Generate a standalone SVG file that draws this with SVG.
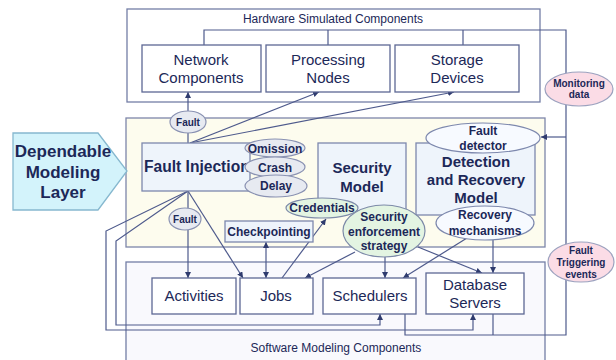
<svg xmlns="http://www.w3.org/2000/svg" width="616" height="360" viewBox="0 0 616 360">
<defs>
<marker id="arr" viewBox="0 0 6 6" refX="6" refY="3" markerWidth="6" markerHeight="6" markerUnits="userSpaceOnUse" orient="auto-start-reverse">
<path d="M0,0 L6,3 L0,6 z" fill="#2f3b6e"/>
</marker>
<style>
text{font-family:"Liberation Sans",Arial,sans-serif;fill:#1c2858;text-anchor:middle}
.cont{fill:#ffffff;stroke:#737ea6;stroke-width:1.3}
.box{fill:#ffffff;stroke:#5d6894;stroke-width:1.3}
.mbox{fill:#eef4fb;stroke:#7d88ad;stroke-width:1.3}
.lbl{font-size:15px}
.bl{font-size:15px;font-weight:bold}
.el{font-size:12px;font-weight:bold}
.es{font-size:10px;font-weight:bold}
.gray{fill:#e7eaf1;stroke:#8a92b2;stroke-width:1.2}
.green{fill:#e3f4e2;stroke:#7d8aa8;stroke-width:1.2}
.white{fill:#f7faff;stroke:#7d88ad;stroke-width:1.2}
.pink{fill:#fbdce6;stroke:#9ca2bf;stroke-width:1.2}
.ln{fill:none;stroke:#4e5a8c;stroke-width:1.2}
.title{font-size:12px}
</style>
</defs>

<g id="containers">
<rect id="hardware" class="cont" x="127" y="9" width="413" height="93"/>
<text class="title" x="333" y="23">Hardware Simulated Components</text>
<rect id="layer" x="126" y="118" width="419" height="129" fill="#fdfcee" stroke="#7d86aa" stroke-width="1.3"/>
<rect id="software" x="126" y="262" width="419" height="110" fill="#f9f9fd" stroke="#737ea6" stroke-width="1.3"/>
<text class="title" x="336" y="352">Software Modeling Components</text>
</g>

<g id="dependable">
<polygon points="13,133 98,133 127,171 98,210 13,210" fill="#d3f3fb" stroke="#86b8cf" stroke-width="1.3"/>
<text x="63" y="157" font-size="17" font-weight="bold">Dependable</text>
<text x="63" y="178" font-size="17" font-weight="bold">Modeling</text>
<text x="63" y="198" font-size="17" font-weight="bold">Layer</text>
</g>

<g id="connectors">
<path class="ln" d="M204,45 V30 H566 V335 H405 V314"/>
<path class="ln" d="M328,30 V45"/>
<path class="ln" d="M463,30 V45"/>
<path class="ln" d="M493,335 V314"/>
<path class="ln" d="M566,137 H541" marker-end="url(#arr)"/>
<path class="ln" d="M188,143 V92" marker-end="url(#arr)"/>
<path class="ln" d="M190,143 L319,92" marker-end="url(#arr)"/>
<path class="ln" d="M190,143 L454,92" marker-end="url(#arr)"/>
<path class="ln" d="M188,191 V278" marker-end="url(#arr)"/>
<path class="ln" d="M188,191 L243,278" marker-end="url(#arr)"/>
<path class="ln" d="M188,191 L116,241 V325 H380 V314" marker-end="url(#arr)"/>
<path class="ln" d="M188,191 L106,231 V330 H473 V314" marker-end="url(#arr)"/>
<path class="ln" d="M266,242 V278" marker-start="url(#arr)" marker-end="url(#arr)"/>
<path class="ln" d="M282,278 L326,219" marker-end="url(#arr)"/>
<path class="ln" d="M355,252 L305,278" marker-end="url(#arr)"/>
<path class="ln" d="M385,257 V278" marker-end="url(#arr)"/>
<path class="ln" d="M418,247 L482,273" marker-end="url(#arr)"/>
<path class="ln" d="M467,238 L403,278" marker-end="url(#arr)"/>
<path class="ln" d="M493,240 V273" marker-end="url(#arr)"/>
</g>

<g id="network">
<rect class="box" x="142" y="45" width="119" height="47"/>
<text class="lbl" x="201" y="65">Network</text>
<text class="lbl" x="201" y="83">Components</text>
</g>
<g id="processing">
<rect class="box" x="266" y="45" width="124" height="47"/>
<text class="lbl" x="328" y="65">Processing</text>
<text class="lbl" x="328" y="83">Nodes</text>
</g>
<g id="storage">
<rect class="box" x="395" y="45" width="124" height="47"/>
<text class="lbl" x="457" y="65">Storage</text>
<text class="lbl" x="457" y="83">Devices</text>
</g>

<g id="monitoring">
<ellipse class="pink" cx="579" cy="89" rx="34" ry="17"/>
<text class="es" x="579" y="87">Monitoring</text>
<text class="es" x="579" y="98">data</text>
</g>
<g id="fault-triggering">
<ellipse class="pink" cx="581" cy="262" rx="33" ry="20"/>
<text class="es" x="581" y="254">Fault</text>
<text class="es" x="581" y="266">Triggering</text>
<text class="es" x="581" y="278">events</text>
</g>

<g id="fault-top">
<ellipse class="gray" cx="188" cy="122" rx="18" ry="11"/>
<text class="es" x="188" y="125.5">Fault</text>
</g>

<g id="fault-injection">
<rect class="mbox" x="142" y="143" width="108" height="48"/>
<text x="144" y="172" style="text-anchor:start;font-size:15.6px;font-weight:bold">Fault Injection</text>
</g>
<g id="omission">
<ellipse class="gray" cx="275" cy="148" rx="30" ry="9"/>
<text class="el" x="275" y="153">Omission</text>
</g>
<g id="crash">
<ellipse class="gray" cx="275" cy="167" rx="30" ry="10"/>
<text class="el" x="275" y="172">Crash</text>
</g>
<g id="delay">
<ellipse class="gray" cx="276" cy="186" rx="31" ry="11"/>
<text class="el" x="276" y="190">Delay</text>
</g>

<g id="security-model">
<rect class="mbox" x="318" y="143" width="88" height="68"/>
<text class="bl" x="362" y="173">Security</text>
<text class="bl" x="362" y="192">Model</text>
</g>

<g id="detection">
<rect class="mbox" x="416" y="143" width="119" height="72"/>
<text class="bl" x="476" y="167">Detection</text>
<text class="bl" x="476" y="185">and Recovery</text>
<text class="bl" x="476" y="203">Model</text>
</g>
<g id="fault-detector">
<ellipse class="white" cx="483" cy="138" rx="57" ry="15"/>
<text class="el" x="483" y="135">Fault</text>
<text class="el" x="483" y="150">detector</text>
</g>
<g id="recovery">
<ellipse class="white" cx="485" cy="223" rx="49" ry="17"/>
<text class="el" x="485" y="219">Recovery</text>
<text class="el" x="485" y="235">mechanisms</text>
</g>

<g id="credentials">
<ellipse class="green" cx="322" cy="208" rx="36" ry="10"/>
<text class="el" x="322" y="212">Credentials</text>
</g>
<g id="security-enforcement">
<ellipse class="green" cx="384" cy="231" rx="41" ry="26"/>
<text class="el" x="384" y="221">Security</text>
<text class="el" x="384" y="236">enforcement</text>
<text class="el" x="384" y="250">strategy</text>
</g>

<g id="fault-bottom">
<ellipse class="gray" cx="185" cy="219" rx="16" ry="11"/>
<text class="es" x="185" y="222.5">Fault</text>
</g>

<g id="checkpointing">
<rect class="mbox" x="225" y="221" width="88" height="21"/>
<text class="el" x="269" y="236">Checkpointing</text>
</g>

<g id="activities">
<rect class="box" x="152" y="278" width="84" height="36"/>
<text class="lbl" x="194" y="301">Activities</text>
</g>
<g id="jobs">
<rect class="box" x="240" y="278" width="73" height="36"/>
<text class="lbl" x="276" y="301">Jobs</text>
</g>
<g id="schedulers">
<rect class="box" x="323" y="278" width="93" height="36"/>
<text class="lbl" x="370" y="301">Schedulers</text>
</g>
<g id="database">
<rect class="box" x="426" y="273" width="98" height="41"/>
<text class="lbl" x="475" y="290">Database</text>
<text class="lbl" x="475" y="308">Servers</text>
</g>
</svg>
